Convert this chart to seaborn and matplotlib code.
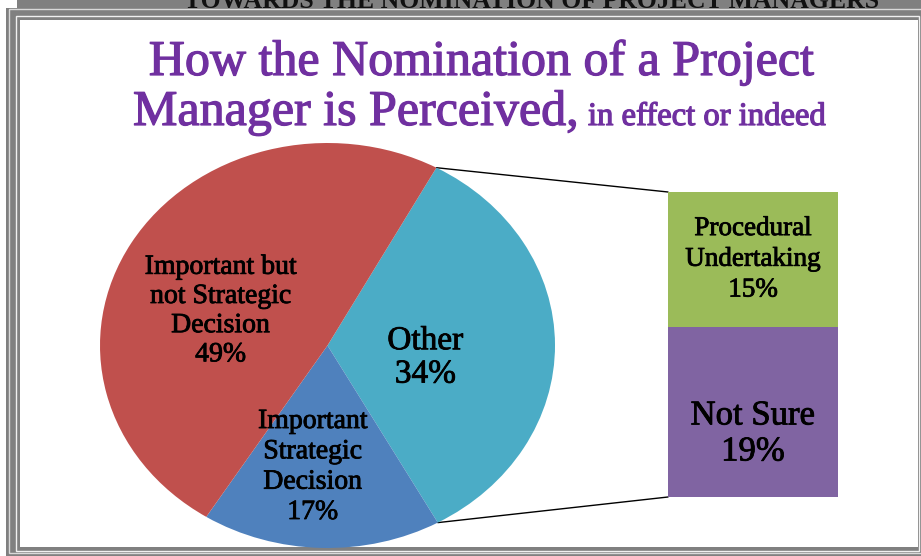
import matplotlib
matplotlib.use('Agg')
import matplotlib.pyplot as plt
import matplotlib.patheffects as pe
from matplotlib.patches import Rectangle, ConnectionPatch
import numpy as np
import seaborn as sns

sns.set_theme(style='white')
plt.rcParams['font.family'] = ['Liberation Serif', 'DejaVu Serif']
plt.rcParams['text.color'] = 'black'

# data
pie_labels = ['Other', 'Important\nStrategic\nDecision', 'Important but\nnot Strategic\nDecision']
pie_values = [34, 17, 49]
pie_colors = ['#4BACC6', '#4F81BD', '#C0504D']
bar_labels = ['Procedural\nUndertaking', 'Not Sure']
bar_values = [15, 19]
bar_colors = ['#9BBB59', '#8064A2']

W, H = 921, 556
fig = plt.figure(figsize=(W / 100, H / 100), dpi=100)
fig.patch.set_facecolor('white')

# background axes in pixel units for the frame and the title
bg = fig.add_axes([0, 0, 1, 1], zorder=0)
bg.set_xlim(0, W)
bg.set_ylim(H, 0)
bg.axis('off')

gray = '#808080'
bg.add_patch(Rectangle((17, 0), W - 17, 8, color=gray, lw=0))
bg.add_patch(Rectangle((6, 8), W - 6, H - 8, color=gray, lw=0))
bg.add_patch(Rectangle((8.5, 8.5), W, H - 11.5, fill=False, ec='#d9d9d9', lw=1))
bg.add_patch(Rectangle((15.5, 15.5), 903, 535, fill=False, ec='#f0f0f0', lw=1))
bg.add_patch(Rectangle((20, 20), 898, 527, color='white', lw=0))

# header of the page, cut off at the top edge like in the source
bg.text(532, 7.5, 'TOWARDS THE NOMINATION OF PROJECT MANAGERS', ha='center', va='baseline',
        fontsize=18.5, fontweight='bold', color='#111111')

purple = '#7030A0'
thick = [pe.withStroke(linewidth=0.9, foreground=purple)]
bg.text(481, 75, 'How the Nomination of a Project', ha='center', va='baseline',
        fontsize=36, color=purple, path_effects=thick)
bg.text(133, 125, 'Manager is Perceived,', ha='left', va='baseline', fontsize=36,
        color=purple, path_effects=thick)
bg.text(588, 125, 'in effect or indeed', ha='left', va='baseline', fontsize=23.5,
        color=purple, path_effects=thick)

# pie (slightly elliptical, like the source)
ax = fig.add_axes([100 / W, (H - 548) / H, 455 / W, 405 / H], zorder=1)
start = 61.4
ax.pie(pie_values, colors=pie_colors, startangle=start, counterclock=False,
       radius=1, wedgeprops=dict(linewidth=0))
ax.set_aspect('auto')
ax.set_xlim(-1, 1)
ax.set_ylim(-1, 1)

blk = [pe.withStroke(linewidth=0.6, foreground='black')]
label_pos = [(0.43, -0.06), (-0.065, -0.6), (-0.47, 0.17)]
label_size = [24, 20, 20]
label_ls = [1.12, 1.28, 1.22]
for lab, val, pos, fs, ls in zip(pie_labels, pie_values, label_pos, label_size, label_ls):
    ax.text(pos[0], pos[1], f'{lab}\n{val}%', ha='center', va='center',
            fontsize=fs, linespacing=ls, color='black', path_effects=blk)

# stacked bar of the "Other" slice
bx = fig.add_axes([668 / W, (H - 497) / H, 170 / W, 305 / H], zorder=1)
total = sum(bar_values)
sns.barplot(x=['o'], y=[total], color=bar_colors[0], saturation=1, width=1,
            linewidth=0, errorbar=None, ax=bx)
sns.barplot(x=['o'], y=[bar_values[1]], color=bar_colors[1], saturation=1, width=1,
            linewidth=0, errorbar=None, ax=bx)
bx.set_xlim(-0.5, 0.5)
bx.set_ylim(0, total)
bx.axis('off')

bx.text(0, bar_values[1] + bar_values[0] / 2, f'{bar_labels[0]}\n{bar_values[0]}%',
        ha='center', va='center', fontsize=19.5, linespacing=1.3, color='black',
        path_effects=blk)
bx.text(0, bar_values[1] * 0.37, f'{bar_labels[1]}\n{bar_values[1]}%',
        ha='center', va='center', fontsize=25, linespacing=1.12, color='black',
        path_effects=blk)

# connector lines from the "Other" slice edges to the bar
t1 = np.deg2rad(start)
t2 = np.deg2rad(start - 360 * pie_values[0] / sum(pie_values))
for t, yb in [(t1, total), (t2, 0)]:
    con = ConnectionPatch(xyA=(np.cos(t), np.sin(t)), coordsA=ax.transData,
                          xyB=(-0.5, yb), coordsB=bx.transData, color='black', lw=1)
    fig.add_artist(con)

fig.savefig('out.png', dpi=100)
